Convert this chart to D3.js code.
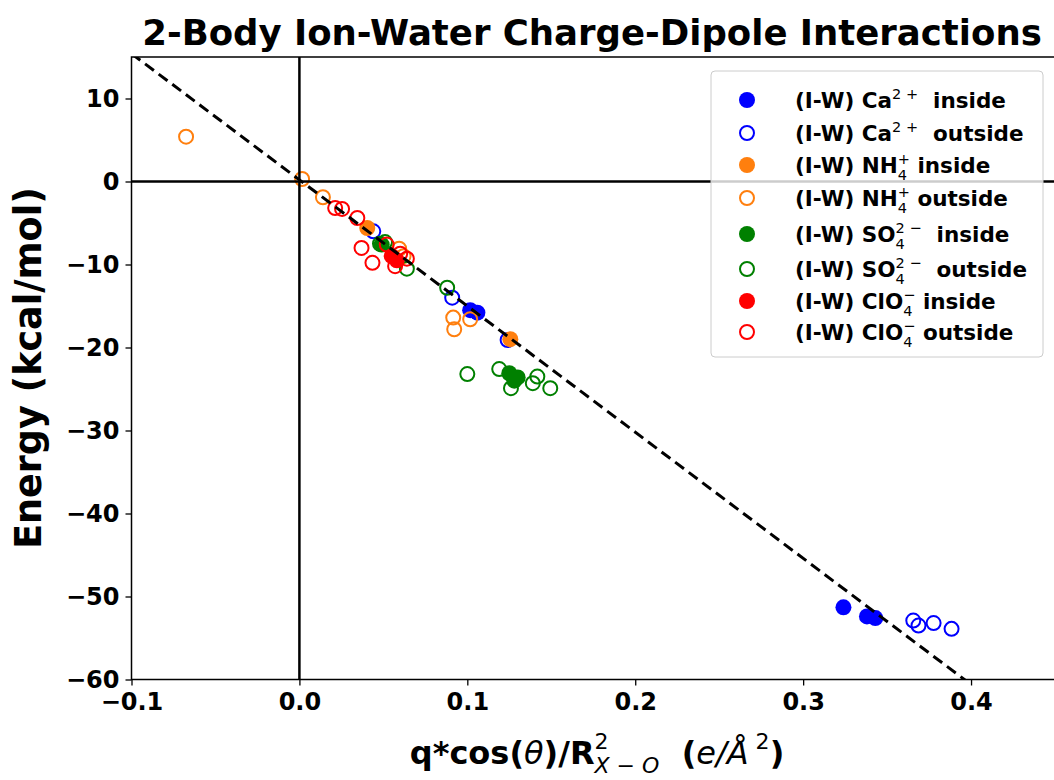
<!DOCTYPE html>
<html>
<head>
<meta charset="utf-8">
<script src="https://cdn.jsdelivr.net/npm/d3@7"></script>
<style>
  html, body { margin: 0; padding: 0; background: #fff; }
  svg { display: block; font-family: "DejaVu Sans", sans-serif; }
  text { white-space: pre; }
</style>
</head>
<body>
<svg id="chart" width="1054" height="780"></svg>
<script>
// Ion-water pairs: [q*cos(theta)/R^2, energy in kcal/mol]
const caInside = [[0.1017, -15.5], [0.1060, -15.8], [0.3240, -51.3], [0.3380, -52.4], [0.3430, -52.6]];
const caOutside = [[0.0440, -6.0], [0.0910, -14.0], [0.1240, -19.1], [0.3656, -52.9], [0.3687, -53.5], [0.3777, -53.2], [0.3884, -53.9]];
const nh4Inside = [[0.0404, -5.6], [0.1256, -19.0]];
const nh4Outside = [[-0.0675, 5.4], [0.0016, 0.3], [0.0140, -1.9], [0.0594, -8.1], [0.0620, -9.0], [0.0916, -16.4], [0.0922, -17.8], [0.1017, -16.6]];
const so4Inside = [[0.1250, -23.1], [0.1300, -23.6], [0.1280, -24.0], [0.0490, -7.6]];
const so4Outside = [[0.0480, -7.5], [0.0510, -7.3], [0.0640, -10.5], [0.0880, -12.8], [0.1000, -23.2], [0.1190, -22.6], [0.1260, -24.9], [0.1390, -24.3], [0.1417, -23.5], [0.1494, -24.9]];
const clo4Inside = [[0.0550, -9.0], [0.0580, -9.5]];
const clo4Outside = [[0.0213, -3.2], [0.0254, -3.3], [0.0345, -4.4], [0.0370, -8.0], [0.0435, -9.8], [0.0520, -7.6], [0.0570, -10.2], [0.0640, -9.3], [0.0600, -8.7]];

// Linear fit drawn as the dashed guide: E = slope * x + intercept
const fitSlope = -152;
const fitIntercept = 0.2;

const xTicks = [-0.1, 0.0, 0.1, 0.2, 0.3, 0.4];
const yTicks = [10, 0, -10, -20, -30, -40, -50, -60];

const series = [
  { data: caInside, color: "#0000ff", filled: true, name: "Ca", sup: "2 +", sub: null, where: "inside" },
  { data: caOutside, color: "#0000ff", filled: false, name: "Ca", sup: "2 +", sub: null, where: "outside" },
  { data: nh4Inside, color: "#ff7f0e", filled: true, name: "NH", sup: "+", sub: "4", where: "inside" },
  { data: nh4Outside, color: "#ff7f0e", filled: false, name: "NH", sup: "+", sub: "4", where: "outside" },
  { data: so4Inside, color: "#008000", filled: true, name: "SO", sup: "2 \u2212", sub: "4", where: "inside" },
  { data: so4Outside, color: "#008000", filled: false, name: "SO", sup: "2 \u2212", sub: "4", where: "outside" },
  { data: clo4Inside, color: "#ff0000", filled: true, name: "ClO", sup: "\u2212", sub: "4", where: "inside" },
  { data: clo4Outside, color: "#ff0000", filled: false, name: "ClO", sup: "\u2212", sub: "4", where: "outside" }
];

const svg = d3.select("#chart");
const plotLeft = 131.5, plotRight = 1055, plotTop = 57, plotBottom = 679.5;

const x = d3.scaleLinear().domain([-0.1, 0.45]).range([plotLeft, plotRight]);
const y = d3.scaleLinear().domain([-60, 15]).range([plotBottom, plotTop]);

const defs = svg.append("defs");
defs.append("clipPath").attr("id", "plotClip")
  .append("rect").attr("x", plotLeft).attr("y", plotTop)
  .attr("width", plotRight - plotLeft).attr("height", plotBottom - plotTop);

// Axes
const xAxis = d3.axisBottom(x).tickValues(xTicks).tickFormat(d3.format(".1f")).tickSizeOuter(0).tickSize(6).tickPadding(7);
const yAxis = d3.axisLeft(y).tickValues(yTicks).tickFormat(d3.format("d")).tickSizeOuter(0).tickSize(6).tickPadding(6);

const gx = svg.append("g").attr("transform", `translate(0,${plotBottom})`).call(xAxis);
const gy = svg.append("g").attr("transform", `translate(${plotLeft},0)`).call(yAxis);
[gx, gy].forEach(g => {
  g.select(".domain").remove();
  g.selectAll(".tick line").attr("stroke", "#000").attr("stroke-width", 1.3);
  g.selectAll(".tick text").attr("fill", "#000").attr("font-size", 24).attr("font-weight", "bold")
    .attr("font-family", "DejaVu Sans, sans-serif");
});

// Plot frame
svg.append("rect").attr("x", plotLeft).attr("y", plotTop)
  .attr("width", plotRight - plotLeft).attr("height", plotBottom - plotTop)
  .attr("fill", "none").attr("stroke", "#000").attr("stroke-width", 1.5);

const plot = svg.append("g").attr("clip-path", "url(#plotClip)");

// Scatter points
series.forEach(s => {
  plot.append("g").selectAll("circle").data(s.data).join("circle")
    .attr("cx", d => x(d[0])).attr("cy", d => y(d[1]))
    .attr("r", s.filled ? 8 : 7)
    .attr("fill", s.filled ? s.color : "none")
    .attr("stroke", s.filled ? "none" : s.color)
    .attr("stroke-width", 2);
});

// Zero reference lines
plot.append("line").attr("x1", plotLeft).attr("x2", plotRight).attr("y1", y(0)).attr("y2", y(0))
  .attr("stroke", "#000").attr("stroke-width", 2.5);
plot.append("line").attr("x1", x(0)).attr("x2", x(0)).attr("y1", plotTop).attr("y2", plotBottom)
  .attr("stroke", "#000").attr("stroke-width", 2.5);

// Dashed fit line
const fitX = [-0.1, 0.45];
plot.append("line")
  .attr("x1", x(fitX[0])).attr("y1", y(fitSlope * fitX[0] + fitIntercept))
  .attr("x2", x(fitX[1])).attr("y2", y(fitSlope * fitX[1] + fitIntercept))
  .attr("stroke", "#000").attr("stroke-width", 3).attr("stroke-dasharray", "11,6");

// Rich text with super/subscripts laid out piece by piece
function richText(parent, px, py, segments, anchor) {
  const g = parent.append("g");
  let cx = 0, prevStart = 0;
  segments.forEach(seg => {
    const start = seg.stack ? prevStart : cx;
    const t = g.append("text")
      .attr("x", start).attr("y", seg.dy || 0)
      .attr("font-size", seg.size)
      .attr("font-weight", seg.bold ? "bold" : "normal")
      .attr("font-style", seg.italic ? "italic" : "normal")
      .attr("fill", "#000")
      .text(seg.text);
    const w = t.node().getComputedTextLength();
    cx = seg.stack ? Math.max(cx, start + w) : start + w;
    prevStart = start;
  });
  const shift = anchor === "middle" ? -cx / 2 : 0;
  g.attr("transform", `translate(${px + shift},${py})`);
  return g;
}

// Title
svg.append("text").attr("x", 592).attr("y", 45).attr("text-anchor", "middle")
  .attr("font-size", 35.5).attr("font-weight", "bold").attr("fill", "#000")
  .text("2-Body Ion-Water Charge-Dipole Interactions");

// Y label
svg.append("text").attr("transform", "translate(41,368) rotate(-90)").attr("text-anchor", "middle")
  .attr("font-size", 36.5).attr("font-weight", "bold").attr("fill", "#000")
  .text("Energy (kcal/mol)");

// X label
richText(svg, 597, 764, [
  { text: "q*cos(", size: 32, bold: true },
  { text: "\u03b8", size: 32, italic: true },
  { text: ")/R", size: 32, bold: true },
  { text: "2", size: 22, dy: -15 },
  { text: "X \u2212 O", size: 22, italic: true, dy: 9, stack: true },
  { text: "  (", size: 32, bold: true },
  { text: "e/\u00c5", size: 32, italic: true },
  { text: " 2", size: 22, dy: -15 },
  { text: ")", size: 32, bold: true }
], "middle");

// Legend
const legend = svg.append("g");
legend.append("rect").attr("x", 711).attr("y", 71).attr("width", 332).attr("height", 286).attr("rx", 4)
  .attr("fill", "#fff").attr("fill-opacity", 0.8).attr("stroke", "#cccccc").attr("stroke-width", 1);
const rowY = [100, 133, 165, 198, 234, 269, 301, 332];
series.forEach((s, i) => {
  const ry = rowY[i];
  legend.append("circle").attr("cx", 747).attr("cy", ry)
    .attr("r", s.filled ? 8 : 7)
    .attr("fill", s.filled ? s.color : "none")
    .attr("stroke", s.filled ? "none" : s.color)
    .attr("stroke-width", 2);
  const segs = [{ text: "(I-W) " + s.name, size: 21.5, bold: true }];
  segs.push({ text: s.sup, size: 14.5, dy: -9 });
  if (s.sub) segs.push({ text: s.sub, size: 14.5, dy: 7, stack: true });
  segs.push({ text: (s.sub && s.name !== "SO" ? " " : "  ") + s.where, size: 21.5, bold: true });
  richText(legend, 795, ry + 8, segs, "start");
});
</script>
</body>
</html>
